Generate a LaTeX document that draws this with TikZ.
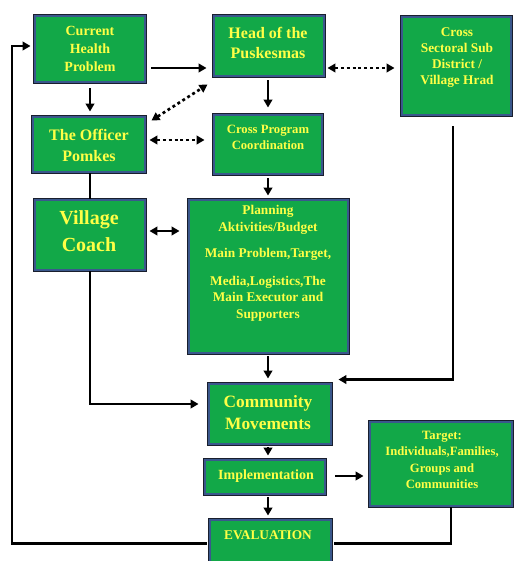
\documentclass[tikz,border=0pt]{standalone}
\usepackage{fontspec}
\setmainfont{Liberation Serif}
\usetikzlibrary{arrows.meta}
\definecolor{boxgreen}{RGB}{18,168,72}
\definecolor{boxblue}{RGB}{58,88,140}
\definecolor{boxdark}{RGB}{25,30,45}
\definecolor{txtyellow}{RGB}{255,255,70}
\newcommand{\fs}[2]{\fontsize{#1}{#2}\selectfont\bfseries}
\newcommand{\mkbox}[5]{\node[box, minimum width={(#4-#2-4)*0.75pt}, minimum height={(#5-#3-4)*0.75pt}] (#1) at ({(#2+#4)/2},{(#3+#5)/2}) {};}
\begin{document}
\begin{tikzpicture}[x=0.75pt,y=-0.75pt,
  box/.style={draw=boxblue, fill=boxgreen, line width=2.2pt,
    preaction={draw=boxdark, line width=3.6pt}, inner sep=0pt},
  txt/.style={text=txtyellow, align=center, inner sep=0pt},
  conn/.style={line width=1.7pt, black},
  arr/.style={conn, -{Triangle[length=6pt,width=6.5pt]}},
  darr/.style={conn, line width=2pt, dash pattern=on 2.2pt off 2.2pt,
    {Triangle[length=6pt,width=6.5pt]}-{Triangle[length=6pt,width=6.5pt]}},
  sarr/.style={conn, {Triangle[length=6pt,width=6.5pt]}-{Triangle[length=6pt,width=6.5pt]}}]
\useasboundingbox (0,0) rectangle (516,561);
\clip (0,0) rectangle (516,561);
\fill[white] (0,0) rectangle (516,561);

% boxes
\mkbox{CHP}{33}{14}{147}{84}
\mkbox{Head}{212}{14}{326}{78}
\mkbox{CS}{400}{15}{513}{117}
\mkbox{Off}{31}{115}{147}{174}
\mkbox{CPC}{212}{113}{324}{176}
\mkbox{VC}{33}{198}{147}{272}
\mkbox{Plan}{187}{198}{350}{355}
\mkbox{CM}{207}{382}{333}{446}
\mkbox{Impl}{203}{458}{327}{496}
\mkbox{Tgt}{368}{420}{514}{508}
\mkbox{Eval}{208}{518}{333}{575}

% texts
\node[txt, font=\fs{10.5}{13.5}] (t1) at (90,49) {Current\\Health\\Problem};
\node[txt, font=\fs{12}{15}] (t2) at (268,43) {Head of the\\Puskesmas};
\node[txt, font=\fs{10}{12}] (t3) at (457,58) {Cross\\Sectoral Sub\\District /\\Village Hrad};
\node[txt, font=\fs{12}{15.75}] (t4) at (89,145) {The Officer\\Pomkes};
\node[txt, font=\fs{9.5}{12}] (t5) at (268,137) {Cross Program\\Coordination};
\node[txt, font=\fs{15}{20}] (t6) at (89,231) {Village\\Coach};
\node[txt, font=\fs{10}{12.5}, anchor=north] (t7) at (268,205) {Planning\\Aktivities/Budget\\[7pt]Main Problem,Target,\\[8.5pt]Media,Logistics,The\\Main Executor and\\Supporters};
\node[txt, font=\fs{13}{16.5}] (t8) at (268,413) {Community\\Movements};
\node[txt, font=\fs{10.5}{12}] (t9) at (266,476) {Implementation};
\node[txt, font=\fs{9.5}{12.4}] (t10) at (442,460) {Target:\\Individuals,Families,\\Groups and\\Communities};
\node[txt, font=\fs{10}{12}] (t11) at (268,535) {EVALUATION};

% connectors
\draw[arr] ([shift={(5,19)}]CHP.east) -- ([shift={(-6,22)}]Head.west);
\draw[arr] ([shift={(0,5)}]CHP.south) -- ([shift={(1,-4)}]Off.north);
\draw[darr] ([shift={(5,5)}]Off.north east) -- ([shift={(-5,7)}]Head.south west);
\draw[darr] ([shift={(3,-4.5)}]Off.east) -- ([shift={(-8,-4.5)}]CPC.west);
\draw[darr] ([shift={(2,22)}]Head.east) -- ([shift={(-6,2)}]CS.west);
\draw[arr] ([shift={(-1,3)}]Head.south) -- ([shift={(0,-6)}]CPC.north);
\draw[arr] ([shift={(0,3)}]CPC.south) -- ([shift={(-0.5,-3)}]Plan.north);
\draw[conn] ([shift={(1,0)}]Off.south) -- (VC.north);
\draw[sarr] ([shift={(3,-4)}]VC.east) -- ([shift={(-8,-45.5)}]Plan.west);
\draw[arr] (VC.south) |- ([shift={(-9,-10)}]CM.west);
\draw[arr] ([shift={(-0.5,2)}]Plan.south) -- ([shift={(-2,-4)}]CM.north);
\draw[arr] ([shift={(-3.5,10)}]CS.south) |- ([shift={(6,-3)}]CM.north east);
\draw[arr] ([shift={(-2,2)}]CM.south) -- ([shift={(3,-3)}]Impl.north);
\draw[arr] ([shift={(9,-1)}]Impl.east) -- ([shift={(-5,12)}]Tgt.west);
\draw[arr] ([shift={(3,2)}]Impl.south) -- ([shift={(-2.5,-3)}]Eval.north);
\draw[conn] ([shift={(10,0)}]Tgt.south) |- ([shift={(2,-3)}]Eval.east);
\coordinate (loop) at (12,46);
\draw[arr] ([shift={(-2,-3)}]Eval.west) -| (loop) -- ([shift={(-3,-3)}]CHP.west);
\end{tikzpicture}
\end{document}
